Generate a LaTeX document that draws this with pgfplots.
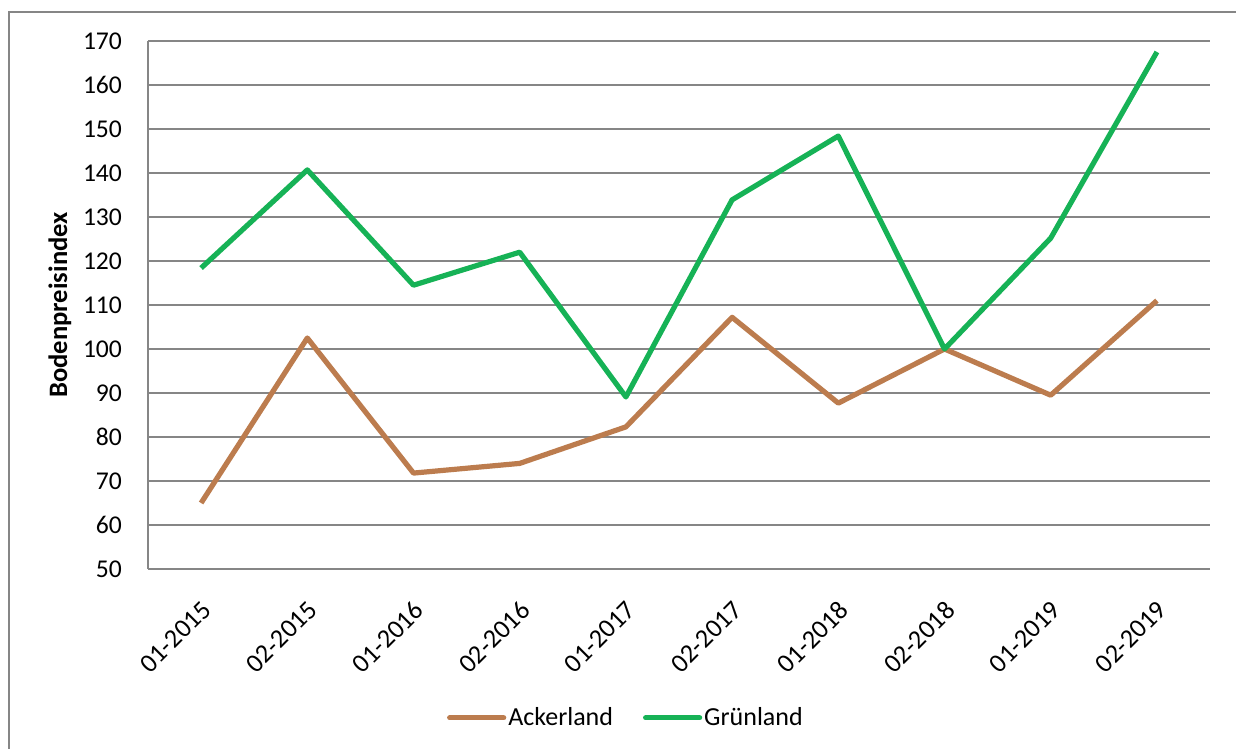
\documentclass[border=0pt]{standalone}
\usepackage{pgfplots}
\pgfplotsset{compat=1.18}
\usepackage{fontspec}
\setmainfont{Carlito}
\definecolor{acker}{RGB}{188,124,78}
\definecolor{gruen}{RGB}{22,178,86}
\definecolor{gridc}{RGB}{134,134,134}
\begin{document}
\begin{tikzpicture}
\useasboundingbox (0,0) rectangle (618pt,374.5pt);
\draw[gridc, line width=0.7pt] (4.5pt,0) -- (4.5pt,368.5pt) -- (618pt,368.5pt);
\begin{axis}[
  at={(74pt,90pt)}, anchor=south west,
  scale only axis, width=531pt, height=264pt,
  xmin=-0.5, xmax=9.5, ymin=50, ymax=170,
  ytick={50,60,...,170},
  xtick={0,...,9},
  xticklabels={01-2015,02-2015,01-2016,02-2016,01-2017,02-2017,01-2018,02-2018,01-2019,02-2019},
  axis lines=left, axis line style={-, gridc, line width=1pt},
  ymajorgrids, grid style={gridc, line width=1pt},
  major tick length=0pt,
  /pgf/number format/assume math mode=true,
  yticklabel style={anchor=east, xshift=-9.5pt, font=\fontsize{12.8}{15}\selectfont},
  xticklabel style={rotate=45, anchor=north east, xshift=-7.5pt, yshift=-7pt, font=\fontsize{13.2}{15}\selectfont},
  ylabel={\textbf{Bodenpreisindex}},
  every axis y label/.style={at={(axis description cs:-0.083,0.5)}, rotate=90, anchor=center, font=\fontsize{13.3}{16}\selectfont},
  legend style={at={(0.45,-0.282)}, anchor=center, draw=none, legend columns=2,
    font=\fontsize{13}{15}\selectfont, inner sep=0pt,
    /tikz/every odd column/.append style={column sep=0pt},
    /tikz/every even column/.append style={column sep=14pt},
    nodes={inner sep=1pt}},
  legend image code/.code={\draw[#1, line cap=round] (0pt,0pt) -- (27pt,0pt);},
]
\addplot[acker, line width=2.6pt, line join=round] coordinates {
 (0,65) (1,102.5) (2,71.8) (3,74) (4,82.3) (5,107.2) (6,87.7) (7,100) (8,89.5) (9,111)};
\addlegendentry{Ackerland}
\addplot[gruen, line width=2.6pt, line join=round] coordinates {
 (0,118.4) (1,140.7) (2,114.5) (3,122) (4,89.1) (5,133.9) (6,148.4) (7,100) (8,125.2) (9,167.5)};
\addlegendentry{Grünland}
\end{axis}
\end{tikzpicture}
\end{document}
